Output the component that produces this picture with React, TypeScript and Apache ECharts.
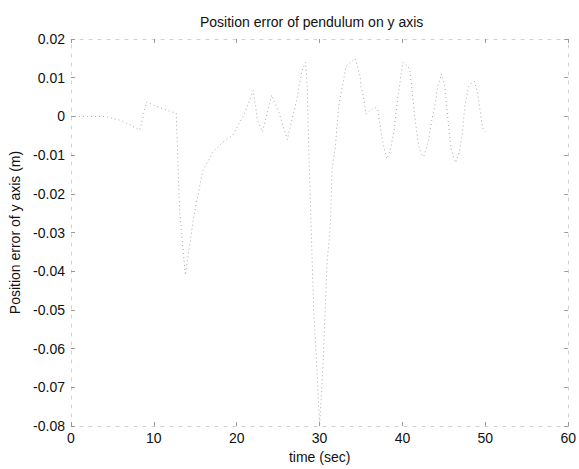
import React, { useEffect, useRef } from "react";
import * as echarts from "echarts";

const titleText = "Position error of pendulum on y axis";
const xAxisName = "time (sec)";
const yAxisName = "Position error of y axis (m)";

const timeSec = [
  0, 2, 4, 6, 8.3, 9.1, 11, 12.7, 13.1, 13.8, 14.8, 15.9, 17.2, 18.5, 19.5, 21,
  22, 22.2, 22.5, 23.1, 23.7, 24.2, 25.1, 26.1, 27.2, 27.9, 28.3, 28.5, 28.7,
  29.3, 29.6, 30.0, 30.4, 30.9, 31.3, 31.5, 31.7, 31.9, 32.3, 33.2, 34.3, 34.9,
  35.0, 35.35, 35.6, 36.55, 37.0, 37.5, 37.75, 38.1, 38.5, 38.96, 39.2, 39.56,
  40.04, 40.64, 40.88, 41.24, 41.48, 41.96, 42.32, 42.56, 43.16, 43.53, 43.89,
  44.25, 44.73, 45.09, 45.45, 45.69, 45.93, 46.41, 46.89, 47.25, 47.49, 47.97,
  48.2, 48.7, 49.06, 49.66, 50.0,
];

const errorY = [
  0, 0, 0, -0.001, -0.0035, 0.0037, 0.002, 0.0008, -0.024, -0.041, -0.026,
  -0.014, -0.009, -0.0063, -0.005, 0.001, 0.0067, 0.0037, -0.001, -0.004,
  0.0009, 0.0055, 0.001, -0.006, 0.004, 0.012, 0.014, 0.008, -0.009, -0.051,
  -0.062, -0.0797, -0.065, -0.038, -0.028, -0.014, -0.0104, -0.0078, 0.0026,
  0.013, 0.015, 0.0103, 0.0077, 0.0044, 0.0006, 0.0024, 0.0019, -0.0053,
  -0.0078, -0.011, -0.009, -0.004, 0.0005, 0.0067, 0.014, 0.013, 0.012, 0.0052,
  0.0, -0.0078, -0.0098, -0.0104, -0.006, -0.001, 0.0025, 0.0077, 0.011, 0.008,
  0.0, -0.005, -0.009, -0.012, -0.009, -0.004, 0.002, 0.0077, 0.0085, 0.009,
  0.0062, -0.003, -0.004,
];

const xMin = 0;
const xMax = 60;
const xStep = 10;
const yMin = -0.08;
const yMax = 0.02;
const yStep = 0.01;

const FONT = "'Liberation Sans', Arial, sans-serif";

export default function App() {
  const ref = useRef<HTMLDivElement>(null);

  useEffect(() => {
    document.body.style.margin = "0";
    if (!ref.current) return;
    const chart = echarts.init(ref.current, undefined, { renderer: "svg" });
    const data = timeSec.map((t, i) => [t, errorY[i]]);
    const fmtY = (v: number) => String(+v.toFixed(2));
    const borderLine = {
      show: true,
      onZero: false,
      lineStyle: { color: "#d0d0d0", width: 1, type: [3, 6] as any },
    };
    const ticks = {
      show: true,
      inside: true,
      length: 4,
      lineStyle: { color: "#9a9a9a", width: 1 },
    };
    chart.setOption({
      animation: false,
      backgroundColor: "#ffffff",
      title: {
        text: titleText,
        left: 200,
        top: 15,
        padding: 0,
        textStyle: {
          fontFamily: FONT,
          fontSize: 14,
          fontWeight: "normal",
          color: "#111",
        },
      },
      grid: { left: 71, right: 9, top: 39, bottom: 38, containLabel: false },
      xAxis: [
        {
          type: "value",
          min: xMin,
          max: xMax,
          interval: xStep,
          name: xAxisName,
          nameLocation: "middle",
          nameGap: 24,
          nameTextStyle: { fontFamily: FONT, fontSize: 14, color: "#111" },
          axisLine: borderLine,
          axisTick: ticks,
          axisLabel: {
            fontFamily: FONT,
            fontSize: 14,
            color: "#111",
            margin: 5,
          },
          splitLine: { show: false },
        },
        {
          type: "value",
          position: "top",
          min: xMin,
          max: xMax,
          interval: xStep,
          axisLine: borderLine,
          axisTick: ticks,
          axisLabel: { show: false },
          splitLine: { show: false },
        },
      ],
      yAxis: [
        {
          type: "value",
          min: yMin,
          max: yMax,
          interval: yStep,
          name: yAxisName,
          nameLocation: "middle",
          nameGap: 46,
          nameTextStyle: { fontFamily: FONT, fontSize: 14, color: "#111" },
          axisLine: borderLine,
          axisTick: ticks,
          axisLabel: {
            fontFamily: FONT,
            fontSize: 14,
            color: "#111",
            margin: 6,
            formatter: fmtY,
          },
          splitLine: { show: false },
        },
        {
          type: "value",
          position: "right",
          min: yMin,
          max: yMax,
          interval: yStep,
          axisLine: borderLine,
          axisTick: ticks,
          axisLabel: { show: false },
          splitLine: { show: false },
        },
      ],
      series: [
        {
          type: "line",
          xAxisIndex: 0,
          yAxisIndex: 0,
          data,
          showSymbol: false,
          symbol: "none",
          lineStyle: { color: "#a8a8a8", width: 1, type: [1, 3] as any },
        },
      ],
    });
    return () => chart.dispose();
  }, []);

  return <div ref={ref} style={{ width: 579, height: 469 }} />;
}
